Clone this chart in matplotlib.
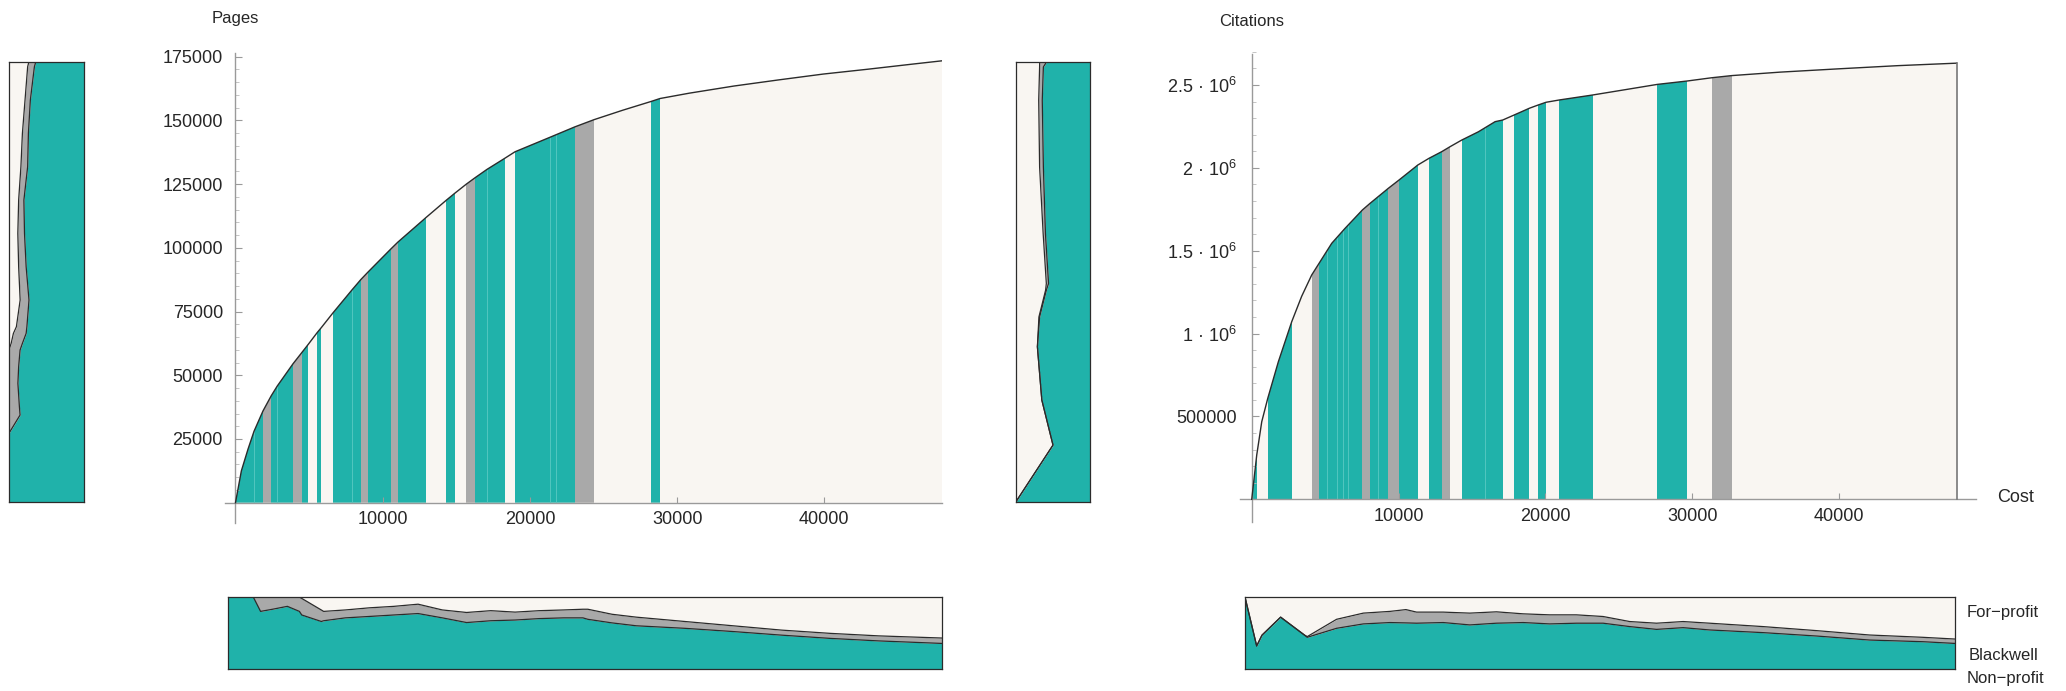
import numpy as np
import matplotlib
matplotlib.use('Agg')
import matplotlib.pyplot as plt
from matplotlib.patches import Polygon

plt.rcParams['font.family'] = ['Liberation Sans', 'DejaVu Sans']
plt.rcParams['mathtext.fontset'] = 'custom'
plt.rcParams['mathtext.rm'] = 'Liberation Sans'
plt.rcParams['mathtext.it'] = 'Liberation Sans:italic'
plt.rcParams['mathtext.bf'] = 'Liberation Sans:bold'

TEAL = '#20b2aa'
GREY = '#a9a9a9'
PAPER = '#f9f6f2'
INK = '#2b2b2b'
AXIS = '#9a9a9a'
SEP = '#52c6bf'
TXT = '#262626'

total_cost = 48000

# ---- left: cumulative pages against cumulative cost ----
pages_cost = [0, 400, 850, 1257, 1868, 2432, 2840, 3906, 4518, 4925, 5557,
              5829, 6624, 7914, 8505, 9001, 10543, 11039, 12962, 14321,
              14891, 15679, 16270, 17086, 18308, 18988, 21366, 23064, 24355,
              26300, 28207, 28838, 30830, 33860, 36890, 39930, 42960, 45990,
              48000]
pages_cum = [0, 12500, 21000, 28000, 36000, 42000, 45800, 54500, 59000,
             62000, 66800, 68700, 74500, 83500, 87500, 90500, 99500, 102300,
             112000, 118700, 121400, 125000, 127500, 130800, 135200, 137700,
             143400, 147500, 150300, 154000, 157400, 158600, 160700, 163500,
             165900, 168200, 170100, 172100, 173400]
pages_strip_lo = [0, 1868, 2432, 3906, 4518, 5557, 6624, 8505, 9001, 10543,
                  11039, 14321, 15679, 16270, 18988, 23064, 28207]
pages_strip_hi = [1868, 2432, 3906, 4518, 4925, 5829, 8505, 9001, 10543,
                  11039, 12962, 14891, 16270, 18308, 23064, 24355, 28838]
pages_strip_kind = ['N', 'B', 'N', 'B', 'N', 'N', 'N', 'B', 'N', 'B', 'N',
                    'N', 'B', 'N', 'N', 'B', 'N']
pages_sep = [1257, 2840, 7914, 17086, 21366, 21773]

# ---- right: cumulative citations against cumulative cost ----
cites_cost = [0, 340, 681, 1090, 1812, 2724, 3400, 4086, 4585, 5449, 6354,
              7535, 8057, 9306, 10033, 11305, 12077, 12940, 13508, 14303,
              15439, 16575, 17097, 17867, 18910, 19523, 20045, 20953, 23224,
              25500, 27630, 29625, 31328, 32690, 36000, 40000, 44000, 48000]
cites_cum = [0, 267000, 468000, 609000, 830000, 1072000, 1225000, 1354000,
             1424000, 1545000, 1635000, 1746000, 1786000, 1877000, 1927000,
             2017000, 2058000, 2098000, 2128000, 2168000, 2218000, 2279000,
             2289000, 2319000, 2360000, 2380000, 2396000, 2410000, 2440000,
             2473000, 2504000, 2524000, 2544000, 2557000, 2578000, 2598000,
             2617000, 2632000]
cites_strip_lo = [0, 1090, 4086, 4585, 7535, 8057, 9306, 10033, 12077, 12940,
                  14303, 17867, 19523, 20953, 27630, 31328]
cites_strip_hi = [340, 2724, 4585, 7535, 8057, 9306, 10033, 11305, 12940,
                  13508, 17097, 18910, 20045, 23224, 29625, 32690]
cites_strip_kind = ['N', 'N', 'B', 'N', 'B', 'N', 'B', 'N', 'N', 'B', 'N',
                    'N', 'N', 'N', 'N', 'B']
cites_sep = [5108, 5790, 6244, 6580, 8625, 15893]

# ---- side panels: share by publisher type against cumulative y ----
pages_side_y = [0, 26960, 34200, 37480, 46690, 53270, 59840, 62470, 66420,
                69050, 79570, 92720, 105880, 119030, 132180, 145330, 158490,
                171640, 173400]
pages_side_np = [1.0, 1.0, 0.851, 0.86, 0.88, 0.87, 0.851, 0.82, 0.77, 0.76,
                 0.732, 0.77, 0.792, 0.80, 0.75, 0.74, 0.714, 0.66, 0.643]
pages_side_nb = [1.0, 1.0, 1.0, 1.0, 1.0, 1.0, 1.0, 0.97, 0.94, 0.90, 0.85,
                 0.87, 0.881, 0.87, 0.84, 0.82, 0.785, 0.75, 0.735]

cites_side_y = [0, 339000, 609000, 928000, 1107000, 1267000, 1307000,
                1606000, 2005000, 2405000, 2604000, 2632000]
cites_side_np = [1.0, 0.50, 0.651, 0.711, 0.681, 0.59, 0.56, 0.602, 0.63,
                 0.645, 0.63, 0.59]
cites_side_nb = [1.0, 0.50, 0.651, 0.711, 0.69, 0.60, 0.59, 0.633, 0.681,
                 0.693, 0.681, 0.68]

# ---- bottom panels: share by publisher type against cumulative cost ----
pages_bot_x = [0, 1700, 2190, 3000, 3990, 4800, 4960, 6270, 6430, 7890, 9530,
               11150, 12780, 14410, 16040, 17670, 19300, 20930, 22560, 23860,
               24190, 25820, 27450, 30700, 33960, 37220, 40480, 43740, 48000]
pages_bot_np = [1.0, 1.0, 0.80, 0.83, 0.87, 0.80, 0.75, 0.66, 0.67, 0.71,
                0.73, 0.75, 0.77, 0.71, 0.645, 0.67, 0.68, 0.70, 0.71, 0.71,
                0.69, 0.64, 0.60, 0.565, 0.52, 0.47, 0.425, 0.39, 0.355]
pages_bot_nb = [1.0, 1.0, 1.0, 1.0, 1.0, 1.0, 0.98, 0.82, 0.80, 0.82, 0.85,
                0.87, 0.90, 0.82, 0.785, 0.81, 0.79, 0.81, 0.82, 0.83, 0.83,
                0.76, 0.72, 0.66, 0.60, 0.54, 0.495, 0.46, 0.43]

cites_bot_x = [0, 790, 1150, 2410, 4030, 4210, 6190, 8000, 9800, 10880,
               11600, 13400, 15200, 17000, 18810, 20610, 22410, 24210, 26010,
               27820, 29620, 31420, 35020, 38630, 42230, 45830, 48000]
cites_bot_np = [1.0, 0.32, 0.47, 0.72, 0.47, 0.44, 0.565, 0.626, 0.645,
                0.64, 0.636, 0.645, 0.612, 0.636, 0.645, 0.626, 0.636, 0.636,
                0.589, 0.55, 0.574, 0.542, 0.505, 0.458, 0.402, 0.379, 0.355]
cites_bot_nb = [1.0, 0.32, 0.47, 0.72, 0.47, 0.45, 0.69, 0.776, 0.80, 0.825,
                0.79, 0.79, 0.776, 0.794, 0.766, 0.752, 0.752, 0.729, 0.659,
                0.636, 0.659, 0.636, 0.589, 0.533, 0.472, 0.44, 0.416]


def main_panel(ax, cost, cum, lo, hi, kind, seps):
    verts = np.column_stack([np.r_[cost, cost[-1], 0], np.r_[cum, 0, 0]])
    poly = Polygon(verts, closed=True, facecolor=PAPER, edgecolor='none',
                   zorder=1)
    ax.add_patch(poly)
    for a, b, k in zip(lo, hi, kind):
        r = ax.axvspan(a, b, color=TEAL if k == 'N' else GREY, lw=0,
                       zorder=1.1)
        r.set_clip_path(poly)
    for s in seps:
        ln = ax.axvline(s, color=SEP, lw=0.7, zorder=1.2)
        ln.set_clip_path(poly)
    ax.plot(cost, cum, color=INK, lw=1.0, zorder=3)
    for side in ['top', 'right']:
        ax.spines[side].set_visible(False)
    for side in ['left', 'bottom']:
        ax.spines[side].set_position(('data', 0))
        ax.spines[side].set_color(AXIS)
        ax.spines[side].set_linewidth(1.0)
    ax.set_facecolor('none')
    ax.set_xticks([10000, 20000, 30000, 40000])
    ax.set_xticklabels(['10000', '20000', '30000', '40000'])
    ax.tick_params(axis='x', direction='in', length=4, width=0.8,
                   color=AXIS, labelsize=13, labelcolor=TXT, pad=6)
    ax.tick_params(axis='y', which='major', direction='in', length=5,
                   width=0.8, color=AXIS, labelsize=13, labelcolor=TXT, pad=9)
    ax.tick_params(axis='y', which='minor', direction='in', length=3,
                   width=0.6, color='#bbbbbb')


def share_side(ax, y, np_share, nb_share, top):
    ax.fill_betweenx(y, 0, np_share, color=TEAL, lw=0)
    ax.fill_betweenx(y, np_share, nb_share, color=GREY, lw=0)
    ax.fill_betweenx(y, nb_share, 1, color=PAPER, lw=0)
    ax.plot(np_share, y, color=INK, lw=0.9)
    ax.plot(nb_share, y, color=INK, lw=0.9)
    ax.set_xlim(1, 0)
    ax.set_ylim(0, top)
    ax.set_xticks([])
    ax.set_yticks([])
    for s in ax.spines.values():
        s.set_color(INK)
        s.set_linewidth(0.9)


def share_bottom(ax, x, np_share, nb_share):
    ax.fill_between(x, 0, np_share, color=TEAL, lw=0)
    ax.fill_between(x, np_share, nb_share, color=GREY, lw=0)
    ax.fill_between(x, nb_share, 1, color=PAPER, lw=0)
    ax.plot(x, np_share, color=INK, lw=0.9)
    ax.plot(x, nb_share, color=INK, lw=0.9)
    ax.set_xlim(0, total_cost)
    ax.set_ylim(0, 1)
    ax.set_xticks([])
    ax.set_yticks([])
    for s in ax.spines.values():
        s.set_color(INK)
        s.set_linewidth(0.9)


fig = plt.figure(figsize=(20.66, 6.91), dpi=100)

# left main
ax1 = fig.add_axes([0.10828, 0.24298, 0.34773, 0.68047])
main_panel(ax1, pages_cost, pages_cum, pages_strip_lo, pages_strip_hi,
           pages_strip_kind, pages_sep)
ax1.set_xlim(-800, total_cost)
ax1.set_ylim(-8000, 176500)
ax1.spines['left'].set_bounds(-8000, 176400)
ax1.spines['bottom'].set_bounds(-720, total_cost)
ax1.set_yticks(np.arange(25000, 175001, 25000))
ax1.set_yticklabels([str(v) for v in range(25000, 175001, 25000)])
ax1.set_yticks([v for v in range(5000, 176000, 5000) if v % 25000],
               minor=True)

# right main
ax2 = fig.add_axes([0.60019, 0.24385, 0.35605, 0.68104])
main_panel(ax2, cites_cost, cites_cum, cites_strip_lo, cites_strip_hi,
           cites_strip_kind, cites_sep)
ax2.plot([total_cost, total_cost], [0, cites_cum[-1]], color='#777777',
         lw=1.2, zorder=3)
ax2.set_xlim(-800, 49300)
ax2.set_ylim(-140000, 2700000)
ax2.spines['left'].set_bounds(-140000, 2690000)
ax2.spines['bottom'].set_bounds(-800, 49300)
ax2.set_yticks([500000, 1000000, 1500000, 2000000, 2500000])
ax2.set_yticklabels(['500000', '1 \u00b7 10$^{6}$', '1.5 \u00b7 10$^{6}$',
                     '2 \u00b7 10$^{6}$', '2.5 \u00b7 10$^{6}$'])
ax2.set_yticks([v for v in range(100000, 2700001, 100000) if v % 500000],
               minor=True)
ax2.tick_params(axis='y', which='major', pad=11)

# side panels
axl = fig.add_axes([0.00431, 0.27395, 0.03630, 0.63590])
share_side(axl, pages_side_y, pages_side_np, pages_side_nb, pages_cum[-1])
axr = fig.add_axes([0.49177, 0.27395, 0.03582, 0.63590])
share_side(axr, cites_side_y, cites_side_np, cites_side_nb, cites_cum[-1])

# bottom panels
abl = fig.add_axes([0.11036, 0.03184, 0.34560, 0.10420])
share_bottom(abl, pages_bot_x, pages_bot_np, pages_bot_nb)
abr = fig.add_axes([0.60261, 0.03184, 0.34366, 0.10420])
share_bottom(abr, cites_bot_x, cites_bot_np, cites_bot_nb)

W, H = 2066.0, 691.0
fig.text(235 / W, 1 - 19 / H, 'Pages', ha='center', va='center',
         fontsize=12, color=TXT)
fig.text(1252 / W, 1 - 21 / H, 'Citations', ha='center', va='center',
         fontsize=12, color=TXT)
fig.text(1997 / W, 1 - 497 / H, 'Cost', ha='left', va='center',
         fontsize=13, color=TXT)
fig.text(1967 / W, 1 - 612 / H, 'For\u2212profit', ha='left', va='center',
         fontsize=12, color=TXT)
fig.text(1969 / W, 1 - 655 / H, 'Blackwell', ha='left', va='center',
         fontsize=12, color=TXT)
fig.text(1967 / W, 1 - 678 / H, 'Non\u2212profit', ha='left', va='center',
         fontsize=12, color=TXT)

fig.savefig('out.png', dpi=100)
